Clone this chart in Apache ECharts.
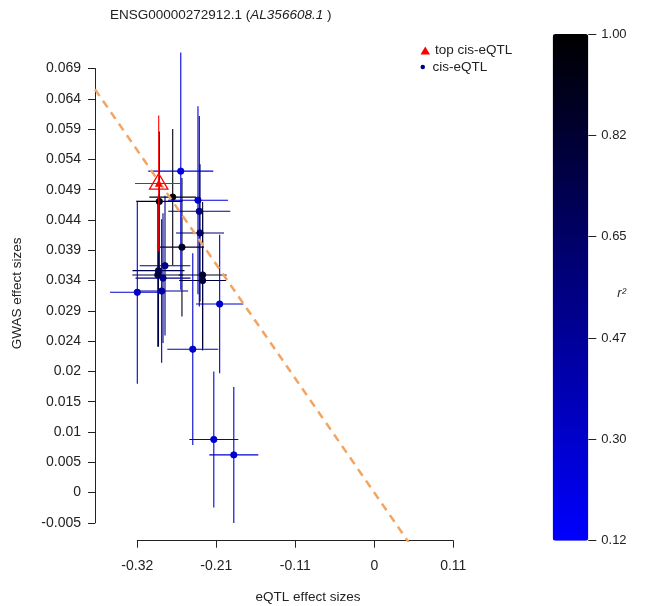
<!DOCTYPE html>
<html><head><meta charset="utf-8">
<script src="https://cdn.jsdelivr.net/npm/echarts@6/dist/echarts.min.js"></script>
<style>html,body{margin:0;padding:0;background:#fff}#c{width:657px;height:606px}</style>
</head><body><div id="c"></div>
<script>
// ---- data: cis-eQTL variants ----
const eqtlEffect = [-0.2613,-0.2722,-0.2903,-0.2381,-0.2363,-0.2353,-0.2597,-0.2826,-0.2914,-0.2923,-0.2853,-0.2318,-0.2318,-0.3200,-0.2871,-0.2088,-0.2451,-0.2167,-0.1897];
const gwasEffect = [0.0520,0.0478,0.0471,0.0473,0.0455,0.0420,0.0397,0.0367,0.0359,0.0352,0.0347,0.0352,0.0343,0.0324,0.0326,0.0305,0.0232,0.0086,0.0061];
const eqtlErr    = [0.0439,0.0316,0.0311,0.0405,0.0419,0.0324,0.0297,0.0342,0.0351,0.0344,0.0371,0.0324,0.0317,0.0369,0.0358,0.0320,0.0344,0.0331,0.0331];
const gwasErr    = [0.0192,0.0110,0.0113,0.0152,0.0154,0.0111,0.0112,0.0113,0.0123,0.0116,0.0105,0.0118,0.0113,0.0148,0.0116,0.0112,0.0155,0.0110,0.0110];
const r2         = [0.22,0.96,0.90,0.25,0.50,0.62,0.88,0.55,0.72,0.78,0.55,0.85,0.80,0.30,0.45,0.30,0.30,0.28,0.28];
// top cis-eQTL
const topEffect = [-0.2911];
const topGwas   = [0.0500];
const topEqtlErr = [0.0320];
const topGwasErr = [0.0110];
// slope of dashed reference line (through origin)
const refSlope = -0.173;
// ticks
const xTickValues = [-0.32,-0.213333,-0.106667,0,0.106667];
const xTickLabels = ['-0.32','-0.21','-0.11','0','0.11'];
const yTickValues = [-0.0049,0,0.0049,0.0098,0.0147,0.0196,0.0245,0.0294,0.0343,0.0392,0.0441,0.0490,0.0539,0.0588,0.0637,0.0686];
const yTickLabels = ['-0.005','0','0.005','0.01','0.015','0.02','0.024','0.029','0.034','0.039','0.044','0.049','0.054','0.059','0.064','0.069'];
const cbTickValues = [0.12,0.296,0.472,0.648,0.824,1.0];
const cbTickLabels = ['0.12','0.30','0.47','0.65','0.82','1.00'];
const r2Min = 0.12, r2Max = 1.0;

// ---- layout ----
const W = 657, H = 606;
const P = {tickL:137.3, tickR:453.3, tickT:68.5, tickB:522.9, plotL:95, plotR:521, plotT:46, plotB:540.7};
const xPerPx = (xTickValues[4]-xTickValues[0])/(P.tickR-P.tickL);
const xMin = xTickValues[0]-(P.tickL-P.plotL)*xPerPx;
const xMax = xTickValues[4]+(P.plotR-P.tickR)*xPerPx;
const yN = yTickValues.length-1;
const yPerPx = (yTickValues[yN]-yTickValues[0])/(P.tickB-P.tickT);
const yMin = yTickValues[0]-(P.plotB-P.tickB)*yPerPx;
const yMax = yTickValues[yN]+(P.tickT-P.plotT)*yPerPx;

const FONT = "'Liberation Sans', Arial, sans-serif";
const TXT = '#222';
function nearestLabel(vals, labels){
  return function(v){ let bi=0, bd=Infinity; vals.forEach((t,i)=>{const d=Math.abs(t-v); if(d<bd){bd=d;bi=i;}}); return labels[bi]; };
}

const cisData = eqtlEffect.map((x,i)=>[x, gwasEffect[i], r2[i], eqtlErr[i], gwasErr[i]]);
const topData = topEffect.map((x,i)=>[x, topGwas[i], 1, topEqtlErr[i], topGwasErr[i]]);

function errGroup(api, color, lw){
  const x=api.value(0), y=api.value(1), xe=api.value(3), ye=api.value(4);
  const l=api.coord([x-xe,y]), r=api.coord([x+xe,y]), t=api.coord([x,y+ye]), b=api.coord([x,y-ye]);
  return [
    {type:'line', shape:{x1:l[0],y1:l[1],x2:r[0],y2:r[1]}, style:{stroke:color,lineWidth:lw}},
    {type:'line', shape:{x1:t[0],y1:t[1],x2:b[0],y2:b[1]}, style:{stroke:color,lineWidth:lw}}
  ];
}

const chart = echarts.init(document.getElementById('c'), null, {renderer:'canvas'});
chart.setOption({
  backgroundColor:'#fff',
  animation:false,
  title:{
    text:'{n|ENSG00000272912.1 (}{i|AL356608.1}{n| )}',
    left:110, top:8, padding:0,
    textStyle:{fontWeight:'normal', rich:{
      n:{fontSize:13.5, color:TXT, fontFamily:FONT, fontWeight:'normal'},
      i:{fontSize:13.5, color:TXT, fontFamily:FONT, fontStyle:'italic', fontWeight:'normal'}
    }}
  },
  legend:[
    {data:[{name:'top cis-eQTL', icon:'triangle', itemStyle:{color:'#FF0000'}}],
     left:420.5, top:43.5, padding:0, itemWidth:9.5, itemHeight:8, itemGap:5, selectedMode:false,
     textStyle:{fontSize:13.5, color:TXT, fontFamily:FONT}},
    {data:[{name:'cis-eQTL', icon:'circle', itemStyle:{color:'#000080'}}],
     left:420.5, top:60, padding:0, itemWidth:9.5, itemHeight:4.5, selectedMode:false,
     textStyle:{fontSize:13.5, color:TXT, fontFamily:FONT}}
  ],
  grid:[
    {left:P.plotL, right:W-P.plotR, top:P.plotT, bottom:H-P.plotB, containLabel:false, outerBoundsMode:'none'},
    {left:P.tickL, right:W-P.tickR, top:P.tickT, bottom:H-P.tickB, containLabel:false, outerBoundsMode:'none'},
    {left:552.7, right:W-588.3, top:34, bottom:H-540.7, containLabel:false, outerBoundsMode:'none'}
  ],
  xAxis:[
    {gridIndex:0, type:'value', min:xMin, max:xMax,
     axisLine:{show:false, onZero:false}, axisTick:{show:false}, axisLabel:{show:false}, splitLine:{show:false},
     name:'eQTL effect sizes', nameLocation:'middle', nameGap:50,
     nameTextStyle:{fontSize:13.5, color:TXT, fontFamily:FONT}},
    {gridIndex:1, type:'value', position:'bottom', min:xTickValues[0], max:xTickValues[4], offset:P.plotB-P.tickB,
     axisLine:{show:true, onZero:false, lineStyle:{color:'#222', width:1}},
     axisTick:{show:true, length:7, customValues:xTickValues, lineStyle:{color:'#222'}},
     axisLabel:{show:true, customValues:xTickValues, margin:18, fontSize:14, color:TXT, fontFamily:FONT,
       formatter:nearestLabel(xTickValues,xTickLabels)},
     splitLine:{show:false}},
    {gridIndex:2, type:'value', show:false, min:0, max:1, axisLine:{onZero:false}}
  ],
  yAxis:[
    {gridIndex:0, type:'value', min:yMin, max:yMax,
     axisLine:{show:false, onZero:false}, axisTick:{show:false}, axisLabel:{show:false}, splitLine:{show:false},
     name:'GWAS effect sizes', nameLocation:'middle', nameGap:71,
     nameTextStyle:{fontSize:13.5, color:TXT, fontFamily:FONT}},
    {gridIndex:1, type:'value', position:'left', min:yTickValues[0], max:yTickValues[yN], offset:P.tickL-P.plotL,
     axisLine:{show:true, onZero:false, lineStyle:{color:'#222', width:1}},
     axisTick:{show:true, length:7, customValues:yTickValues, lineStyle:{color:'#222'}},
     axisLabel:{show:true, customValues:yTickValues, margin:14, fontSize:14, color:TXT, fontFamily:FONT,
       formatter:nearestLabel(yTickValues,yTickLabels)},
     splitLine:{show:false}},
    {gridIndex:2, type:'value', position:'right', min:r2Min, max:r2Max,
     axisLine:{show:false, onZero:false},
     axisTick:{show:true, length:8, customValues:cbTickValues, lineStyle:{color:'#222'}},
     axisLabel:{show:true, customValues:cbTickValues, margin:13, fontSize:13, color:TXT, fontFamily:FONT,
       formatter:nearestLabel(cbTickValues,cbTickLabels)},
     splitLine:{show:false},
     name:'r\u00B2', nameLocation:'middle', nameRotate:0, nameGap:29, nameMoveOverlap:false,
     nameTextStyle:{fontSize:13, color:TXT, fontFamily:FONT, fontStyle:'italic', align:'left', verticalAlign:'top'}}
  ],
  visualMap:{
    type:'continuous', min:r2Min, max:r2Max, dimension:2, seriesIndex:0,
    inRange:{color:['#0000FF','#000000']},
    left:552.7, top:34, itemWidth:35.6, itemHeight:506.7, padding:0,
    calculable:false, hoverLink:false, orient:'vertical', text:null
  },
  series:[
    {name:'cis-eQTL', type:'custom', xAxisIndex:0, yAxisIndex:0, data:cisData,
     dimensions:['eqtl','gwas','r2','eqtlErr','gwasErr'], encode:{x:0,y:1},
     renderItem:function(params, api){
       const color = api.visual('color');
       const c = api.coord([api.value(0), api.value(1)]);
       const ch = errGroup(api, color, 1.1);
       ch.push({type:'circle', shape:{cx:c[0],cy:c[1],r:3.2}, style:{fill:color, stroke:color, lineWidth:0.8}});
       return {type:'group', children:ch};
     }, z:2},
    {name:'ref', type:'line', xAxisIndex:0, yAxisIndex:0, clip:true, symbol:'none',
     data:[[xMin, refSlope*xMin],[xMax, refSlope*xMax]],
     lineStyle:{color:'#F4A460', width:2.5, type:[8,6]}, z:3, silent:true},
    {name:'top cis-eQTL', type:'custom', xAxisIndex:0, yAxisIndex:0, data:topData,
     dimensions:['eqtl','gwas','r2','eqtlErr','gwasErr'], encode:{x:0,y:1},
     renderItem:function(params, api){
       const color = '#FF0000';
       const c = api.coord([api.value(0), api.value(1)]);
       const ch = errGroup(api, color, 1.1);
       ch.push({type:'polygon', shape:{points:[[c[0],c[1]-10],[c[0]-9.2,c[1]+5.7],[c[0]+9.2,c[1]+5.7]]}, style:{fill:'none', stroke:color, lineWidth:1.3}});
       ch.push({type:'polygon', shape:{points:[[c[0],c[1]-4.2],[c[0]-3.8,c[1]+3.3],[c[0]+3.8,c[1]+3.3]]}, style:{fill:color}});
       return {type:'group', children:ch};
     }, z:4}
  ]
});
</script>
</body></html>
